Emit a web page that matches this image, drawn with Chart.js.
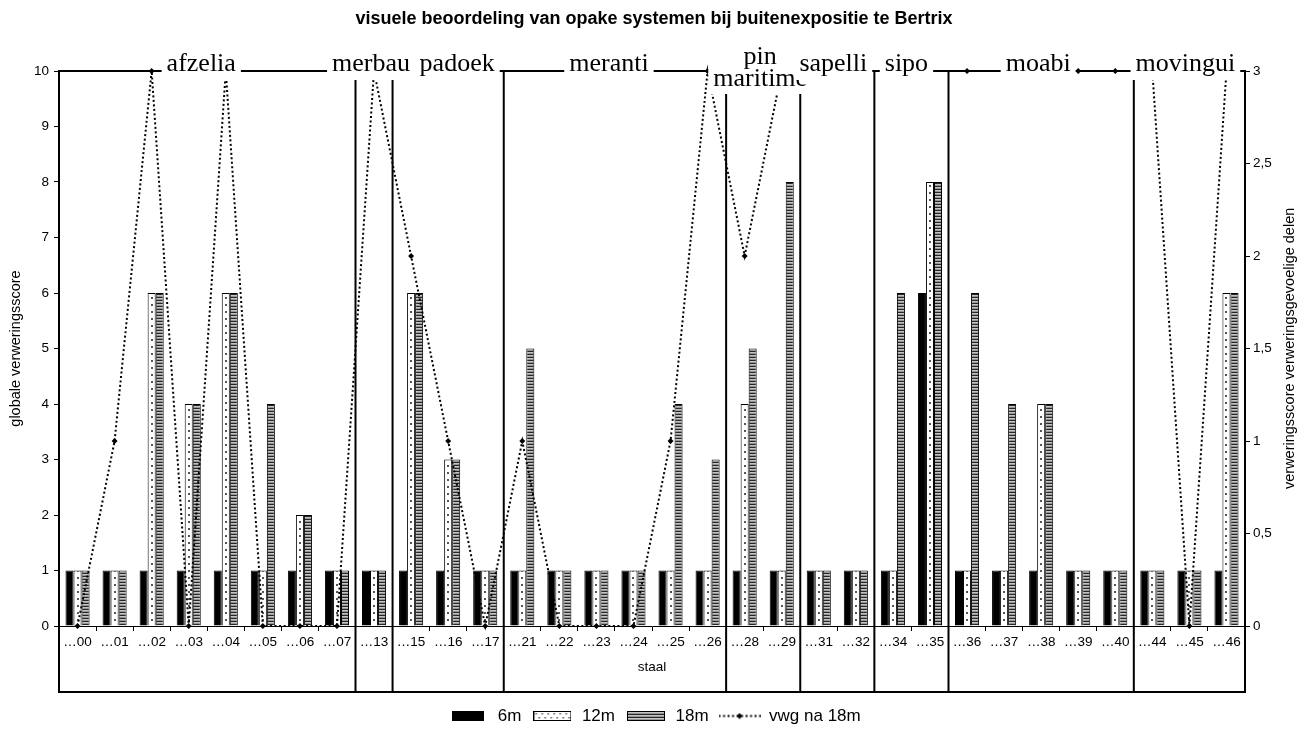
<!DOCTYPE html>
<html>
<head>
<meta charset="utf-8">
<title>visuele beoordeling van opake systemen bij buitenexpositie te Bertrix</title>
<script src="https://cdn.jsdelivr.net/npm/chart.js@4/dist/chart.umd.min.js"></script>
<style>
  html, body { margin: 0; padding: 0; background: #fff; }
  canvas { display: block; }
</style>
</head>
<body>
<canvas id="chart" width="1308" height="729"></canvas>
<script>
// ---- data -------------------------------------------------------------
const sampleLabels = ['…00','…01','…02','…03','…04','…05','…06','…07','…13','…15','…16','…17',
                      '…21','…22','…23','…24','…25','…26','…28','…29','…31','…32','…34','…35',
                      '…36','…37','…38','…39','…40','…44','…45','…46'];
const score6m  = [1,1,1,1,1,1,1,1, 1, 1,1,1, 1,1,1,1,1,1, 1,1, 1,1, 1,6, 1,1,1,1,1, 1,1,1];
const score12m = [1,1,6,4,6,1,2,1, 1, 6,3,1, 1,1,1,1,1,1, 4,1, 1,1, 1,8, 1,1,4,1,1, 1,1,6];
const score18m = [1,1,6,4,6,4,2,1, 1, 6,3,1, 5,1,1,1,4,3, 5,8, 1,1, 6,8, 6,4,4,1,1, 1,1,6];
const vwgAfter18m = [0,1,3,0,3,0,0,0, 3, 2,1,0, 1,0,0,0,1,3, 2,3, 3,3, 3,3, 3,3,3,3,3, 3,0,3];
const woodGroups = ['afzelia','merbau','padoek','meranti','pin maritime','sapelli','sipo','moabi','movingui'];
const groupSizes = [8,1,3,6,2,2,2,5,3];
const seriesNames = ['6m','12m','18m','vwg na 18m'];
const leftTickValues = [0,1,2,3,4,5,6,7,8,9,10];
const rightTickLabels = ['0','0,5','1','1,5','2','2,5','3'];

// ---- styling helpers --------------------------------------------------
const SANS = '"Liberation Sans", Arial, sans-serif';
const SERIF = '"Liberation Serif", "Times New Roman", serif';
const canvas = document.getElementById('chart');
const ctx = canvas.getContext('2d');

function tile(w, h, paint) {
  const c = document.createElement('canvas');
  c.width = w; c.height = h;
  paint(c.getContext('2d'));
  return c;
}
const dotTile = tile(8, 7, g => {
  g.fillStyle = '#fff'; g.fillRect(0, 0, 8, 7);
  g.fillStyle = '#555'; g.fillRect(3, 3, 2, 2);
});
const stripeTile = tile(4, 3, g => {
  g.fillStyle = '#c4c4c4'; g.fillRect(0, 0, 4, 3);
  g.fillStyle = '#262626'; g.fillRect(0, 0, 4, 1);
  g.fillStyle = '#959595'; g.fillRect(0, 2, 4, 1);
});
const stripePattern = ctx.createPattern(stripeTile, 'repeat');

// dotted fill aligned on the centre of each category
function dottedFill(c) {
  const p = ctx.createPattern(dotTile, 'repeat');
  const xs = c.chart.scales && c.chart.scales.x;
  if (xs && c.dataIndex !== undefined) {
    const cx = xs.getPixelForValue(c.dataIndex);
    p.setTransform(new DOMMatrix().translate(Math.round(cx) - 4, 0));
  }
  return p;
}

// legend keys
const legendKeys = [
  tile(32, 10, g => { g.fillStyle = '#000'; g.fillRect(0, 0, 32, 10); }),
  tile(38, 10, g => {
    g.fillStyle = '#fff'; g.fillRect(0, 0, 38, 10);
    g.fillStyle = '#555';
    for (let x = 2; x < 36; x += 6) { g.fillRect(x, 2, 1.5, 1.5); g.fillRect(x + 3, 6, 1.5, 1.5); }
    g.strokeStyle = '#000'; g.lineWidth = 1; g.strokeRect(0.5, 0.5, 37, 9);
  }),
  tile(38, 10, g => {
    g.fillStyle = g.createPattern(stripeTile, 'repeat'); g.fillRect(0, 0, 38, 10);
    g.strokeStyle = '#000'; g.lineWidth = 1; g.strokeRect(0.5, 0.5, 37, 9);
  }),
  tile(42, 7, g => {
    g.strokeStyle = '#000'; g.lineWidth = 2; g.setLineDash([2, 2.5]);
    g.beginPath(); g.moveTo(0, 3.5); g.lineTo(42, 3.5); g.stroke();
    g.fillStyle = '#000'; g.beginPath();
    g.moveTo(21, 0.5); g.lineTo(24, 3.5); g.lineTo(21, 6.5); g.lineTo(18, 3.5); g.closePath(); g.fill();
  })
];

// ---- plugins ----------------------------------------------------------
// boxes around each wood species, running from the top of the plot down
// through the category table, with the species name on the top edge
const speciesFrames = {
  id: 'speciesFrames',
  afterDatasetsDraw(chart, args, opts) {
    const { ctx, chartArea } = chart;
    const xs = chart.scales.x;
    const step = xs.getPixelForValue(1) - xs.getPixelForValue(0);
    const top = chartArea.top;
    const bottom = chartArea.bottom + opts.tableDepth;
    const frames = [];
    let start = 0;
    groupSizes.forEach(n => {
      const l = xs.getPixelForValue(start) - step / 2;
      frames.push([l, l + n * step]);
      start += n;
    });
    ctx.save();
    ctx.strokeStyle = '#000';
    ctx.lineWidth = 2;
    ctx.beginPath();
    frames.forEach(([l, r]) => ctx.rect(l, top, r - l, bottom - top));
    ctx.stroke();

    ctx.font = opts.font;
    ctx.textAlign = 'center';
    ctx.textBaseline = 'alphabetic';
    woodGroups.forEach((name, i) => {
      const [l, r] = frames[i];
      const cx = (l + r) / 2 + (opts.nudge[i] || 0);
      const lines = opts.twoLine.includes(name) ? name.split(' ') : [name];
      const w = Math.max(...lines.map(t => ctx.measureText(t).width));
      const boxBottom = lines.length > 1 ? opts.boxBottom2 : opts.boxBottom1;
      ctx.fillStyle = '#fff';
      ctx.fillRect(cx - w / 2 - opts.pad, opts.boxTop, w + 2 * opts.pad, boxBottom - opts.boxTop);
      ctx.fillStyle = '#000';
      const baselines = lines.length > 1 ? opts.baselines2 : [opts.baseline1];
      lines.forEach((t, k) => ctx.fillText(t, cx, baselines[k]));
    });
    ctx.restore();
  }
};

// right-hand axis title, reading upwards
const rightAxisTitle = {
  id: 'rightAxisTitle',
  afterDraw(chart, args, opts) {
    const { ctx } = chart;
    ctx.save();
    ctx.beginPath();
    ctx.rect(opts.x - 12, opts.clipTop, 24, 729);
    ctx.clip();
    ctx.translate(opts.x, opts.startY);
    ctx.rotate(-Math.PI / 2);
    ctx.font = opts.font;
    ctx.fillStyle = '#000';
    ctx.textAlign = 'left';
    ctx.textBaseline = 'middle';
    ctx.fillText(opts.text, 0, 0);
    ctx.restore();
  }
};

// ---- chart ------------------------------------------------------------
new Chart(ctx, {
  type: 'bar',
  data: {
    labels: sampleLabels,
    datasets: [
      { label: seriesNames[0], data: score6m, backgroundColor: '#000', borderColor: '#000', borderWidth: 1, yAxisID: 'y', order: 1 },
      { label: seriesNames[1], data: score12m, backgroundColor: dottedFill, borderColor: '#000', borderWidth: 1, yAxisID: 'y', order: 1 },
      { label: seriesNames[2], data: score18m, backgroundColor: stripePattern, borderColor: '#000', borderWidth: 1, yAxisID: 'y', order: 1 },
      { label: seriesNames[3], type: 'line', data: vwgAfter18m, yAxisID: 'y1', order: 0,
        borderColor: '#000', borderWidth: 2, borderDash: [2, 2.5], tension: 0, fill: false,
        pointStyle: 'rectRot', pointRadius: 3, pointBackgroundColor: '#000', pointBorderColor: '#000',
        pointBorderWidth: 0, clip: false }
    ]
  },
  options: {
    responsive: false,
    animation: false,
    events: [],
    datasets: { bar: { categoryPercentage: 0.65, barPercentage: 1.0 } },
    layout: { padding: { left: 0, right: 0, top: 0, bottom: -5.5 } },
    scales: {
      x: {
        offset: true,
        grid: { offset: true, drawOnChartArea: false, drawTicks: true, tickLength: 5, color: '#000', lineWidth: 1 },
        border: { display: true, color: '#000', width: 1 },
        ticks: { color: '#000', font: { family: SANS, size: 13.5 }, autoSkip: false, maxRotation: 0, minRotation: 0, padding: 3 },
        title: { display: true, text: 'staal', color: '#000', font: { family: SANS, size: 13.5 }, padding: { top: 0, bottom: 22.5 } },
        afterFit(scale) { scale.height = 71.5; }
      },
      y: {
        position: 'left',
        min: 0, max: 10,
        afterBuildTicks(scale) { scale.ticks = leftTickValues.map(v => ({ value: v })); },
        grid: { drawOnChartArea: false, drawTicks: true, tickLength: 5, color: '#000', lineWidth: 1 },
        border: { display: true, color: '#000', width: 2 },
        ticks: { color: '#000', font: { family: SANS, size: 13.5 }, padding: 5 },
        title: { display: true, text: 'globale verweringsscore', color: '#000', font: { family: SANS, size: 14.5 }, padding: { top: 7, bottom: 0 } },
        afterFit(scale) { scale.width = 59; }
      },
      y1: {
        position: 'right',
        min: 0, max: 3,
        afterBuildTicks(scale) { scale.ticks = rightTickLabels.map((t, i) => ({ value: i * 0.5 })); },
        grid: { drawOnChartArea: false, drawTicks: true, tickLength: 5, color: '#000', lineWidth: 1 },
        border: { display: true, color: '#000', width: 2 },
        ticks: { color: '#000', font: { family: SANS, size: 13.5 }, padding: 3,
                 callback: (v, i) => rightTickLabels[i] },
        afterFit(scale) { scale.width = 63; }
      }
    },
    plugins: {
      title: {
        display: true,
        text: 'visuele beoordeling van opake systemen bij buitenexpositie te Bertrix',
        color: '#000',
        font: { family: SANS, size: 18, weight: 'bold' },
        padding: { top: 8.2, bottom: 41.2 }
      },
      legend: {
        display: true,
        position: 'bottom',
        labels: {
          usePointStyle: true,
          pointStyleWidth: 42,
          boxHeight: 10,
          padding: 10,
          color: '#000',
          font: { family: SANS, size: 17 },
          generateLabels: chart => chart.data.datasets.map((ds, i) => ({
            text: ds.label, pointStyle: legendKeys[i], datasetIndex: i,
            fillStyle: '#000', strokeStyle: '#000', lineWidth: 0, hidden: false, fontColor: '#000'
          }))
        }
      },
      tooltip: { enabled: false },
      speciesFrames: {
        tableDepth: 66,
        font: '26px ' + SERIF,
        pad: 5,
        boxTop: 42,
        boxBottom1: 80,
        boxBottom2: 94,
        baseline1: 71,
        baselines2: [64, 86],
        twoLine: ['pin maritime'],
        nudge: [-6, -3, 9, -6, -3, -4, -5, -3, -4]
      },
      rightAxisTitle: {
        text: 'verweringsscore verweringsgevoelige delen',
        font: '14.5px ' + SANS,
        x: 1290,
        startY: 489,
        clipTop: 203
      }
    }
  },
  plugins: [speciesFrames, rightAxisTitle]
});
</script>
</body>
</html>
